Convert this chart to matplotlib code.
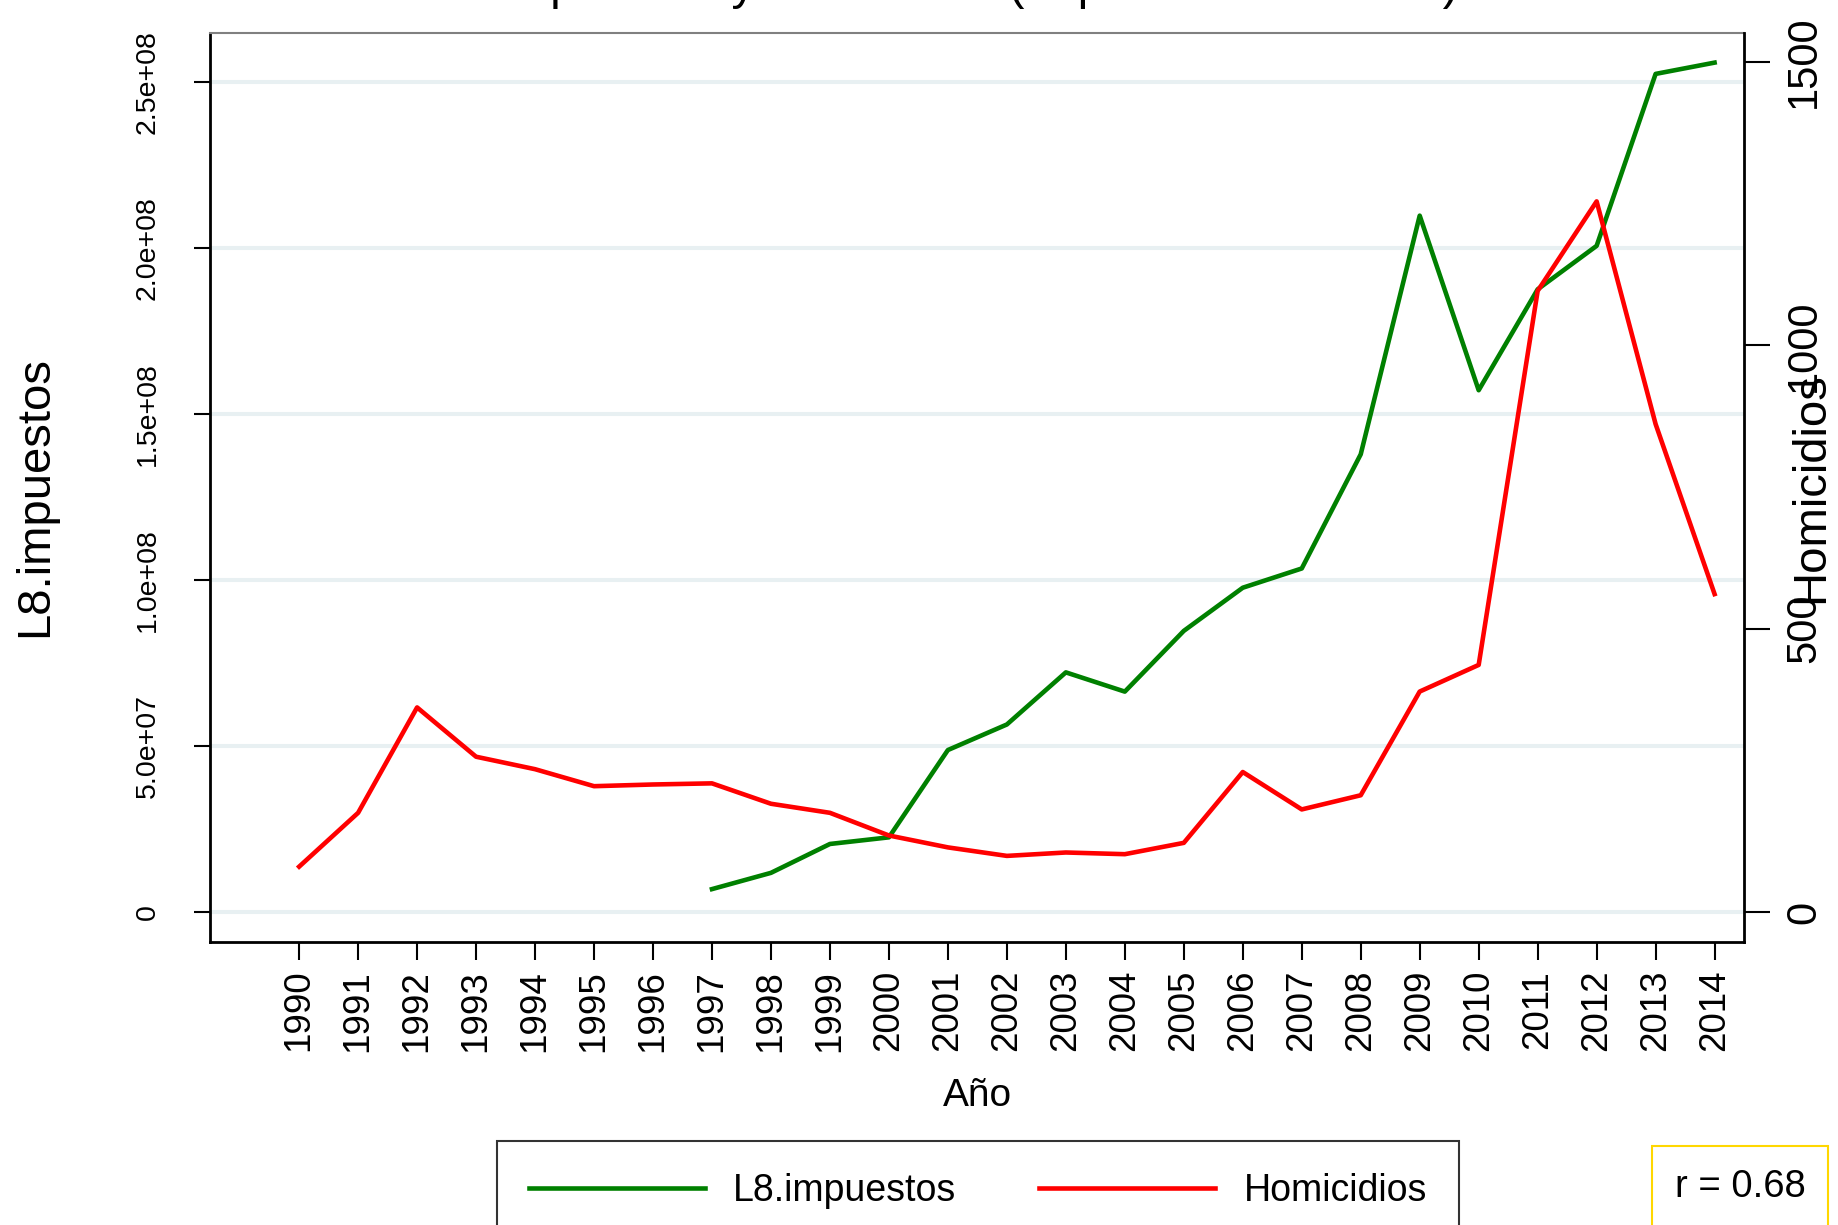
import matplotlib
matplotlib.use("Agg")
import matplotlib.pyplot as plt
import numpy as np

plt.rcParams['font.family'] = ['Liberation Sans', 'DejaVu Sans']

# ------------------------------------------------------------
# datos
# ------------------------------------------------------------
years_hom = list(range(1990, 2015))
homicidios = [80, 175, 361, 274, 252, 222, 225, 227, 191, 175, 135, 114, 99, 105,
              102, 122, 247, 181, 206, 389, 436, 1096, 1254, 861, 561]

years_imp = list(range(1997, 2015))
impuestos = [6.9e6, 1.18e7, 2.05e7, 2.25e7, 4.88e7, 5.65e7, 7.22e7, 6.64e7, 8.47e7,
             9.77e7, 1.035e8, 1.379e8, 2.098e8, 1.572e8, 1.876e8, 2.007e8, 2.525e8, 2.559e8]

left_ticks = [0, 5e7, 1e8, 1.5e8, 2e8, 2.5e8]
left_labels = ['0', '5.0e+07', '1.0e+08', '1.5e+08', '2.0e+08', '2.5e+08']
right_ticks = [0, 500, 1000, 1500]
right_labels = ['0', '500', '1000', '1500']

titulo = "Impuestos y homicidios (Impuestos a 8 años)"
r_text = "r = 0.68"

green = '#008000'
red = '#FF0000'
grid_col = '#E8F0F2'

# ------------------------------------------------------------
# figura
# ------------------------------------------------------------
fig = plt.figure(figsize=(18.38, 12.25), dpi=100)
ax = fig.add_axes([0.1143, 0.231, 0.8346, 0.742])
ax2 = ax.twinx()

ax.set_axisbelow(True)
ax.yaxis.grid(True, color=grid_col, lw=2.9)
l1, = ax.plot(years_imp, impuestos, color=green, lw=3.3, label='L8.impuestos')
l2, = ax2.plot(years_hom, homicidios, color=red, lw=3.3, label='Homicidios')

ax.set_xlim(1988.49, 2014.5)
ax.set_ylim(-9.04e6, 2.648e8)
ax2.set_ylim(-53, 1551)

ax.set_xticks(years_hom)
ax.set_xticklabels([str(y) for y in years_hom], rotation=90, fontsize=26.5)
ax.set_yticks(left_ticks)
ax.set_yticklabels(left_labels, rotation=90, va='center', fontsize=20.5)
ax2.set_yticks(right_ticks)
ax2.set_yticklabels(right_labels, rotation=90, va='center', fontsize=30)

ax.tick_params(axis='x', length=13, width=1.5, pad=7)
ax.tick_params(axis='y', length=11.5, width=1.5, pad=24)
ax2.tick_params(axis='y', length=19, width=1.5, pad=10)

# bordes
for s in ['left', 'bottom']:
    ax.spines[s].set_color('black')
    ax.spines[s].set_linewidth(2)
ax.spines['top'].set_color('#808080')
ax.spines['top'].set_linewidth(1.5)
ax.spines['right'].set_visible(False)
for s in ['left', 'bottom', 'top']:
    ax2.spines[s].set_visible(False)
ax2.spines['right'].set_color('black')
ax2.spines['right'].set_linewidth(2)

# etiquetas
ax.set_xlabel('Año', fontsize=28)
ax.xaxis.set_label_coords(0.5, -0.169)
ax.xaxis.label.set_va('center')

ax.set_ylabel('L8.impuestos', fontsize=34)
ax.yaxis.set_label_coords(-0.114, 0.49)
ax.yaxis.label.set_va('center')
ax.yaxis.label.set_ha('center')

ax2.set_ylabel('Homicidios', fontsize=34, rotation=90)
ax2.yaxis.set_label_coords(1.0437, 0.5)
ax2.yaxis.label.set_va('center')
ax2.yaxis.label.set_ha('center')

# titulo (queda casi fuera del lienzo, como en el original)
fig.text(978 / 1838, 1.0 + 1 / 1225, titulo, ha='center', va='baseline', fontsize=34.5)

# leyenda
leg = fig.legend(handles=[l1, l2], loc='upper center', bbox_to_anchor=(0.532, 0.0686),
                 ncol=2, frameon=True, fancybox=False, edgecolor='black', fontsize=27,
                 handlelength=4.7, handletextpad=0.75, columnspacing=2.2, borderpad=0.85,
                 borderaxespad=0)
leg.get_frame().set_linewidth(1.5)

# caja de correlacion
fig.text(1740 / 1838, 1 - 1187 / 1225, r_text, ha='center', va='center', fontsize=27.5,
         bbox=dict(boxstyle='square,pad=0.6', fc='white', ec='#FFD700', lw=1.5))

fig.savefig('out.png', dpi=100)
